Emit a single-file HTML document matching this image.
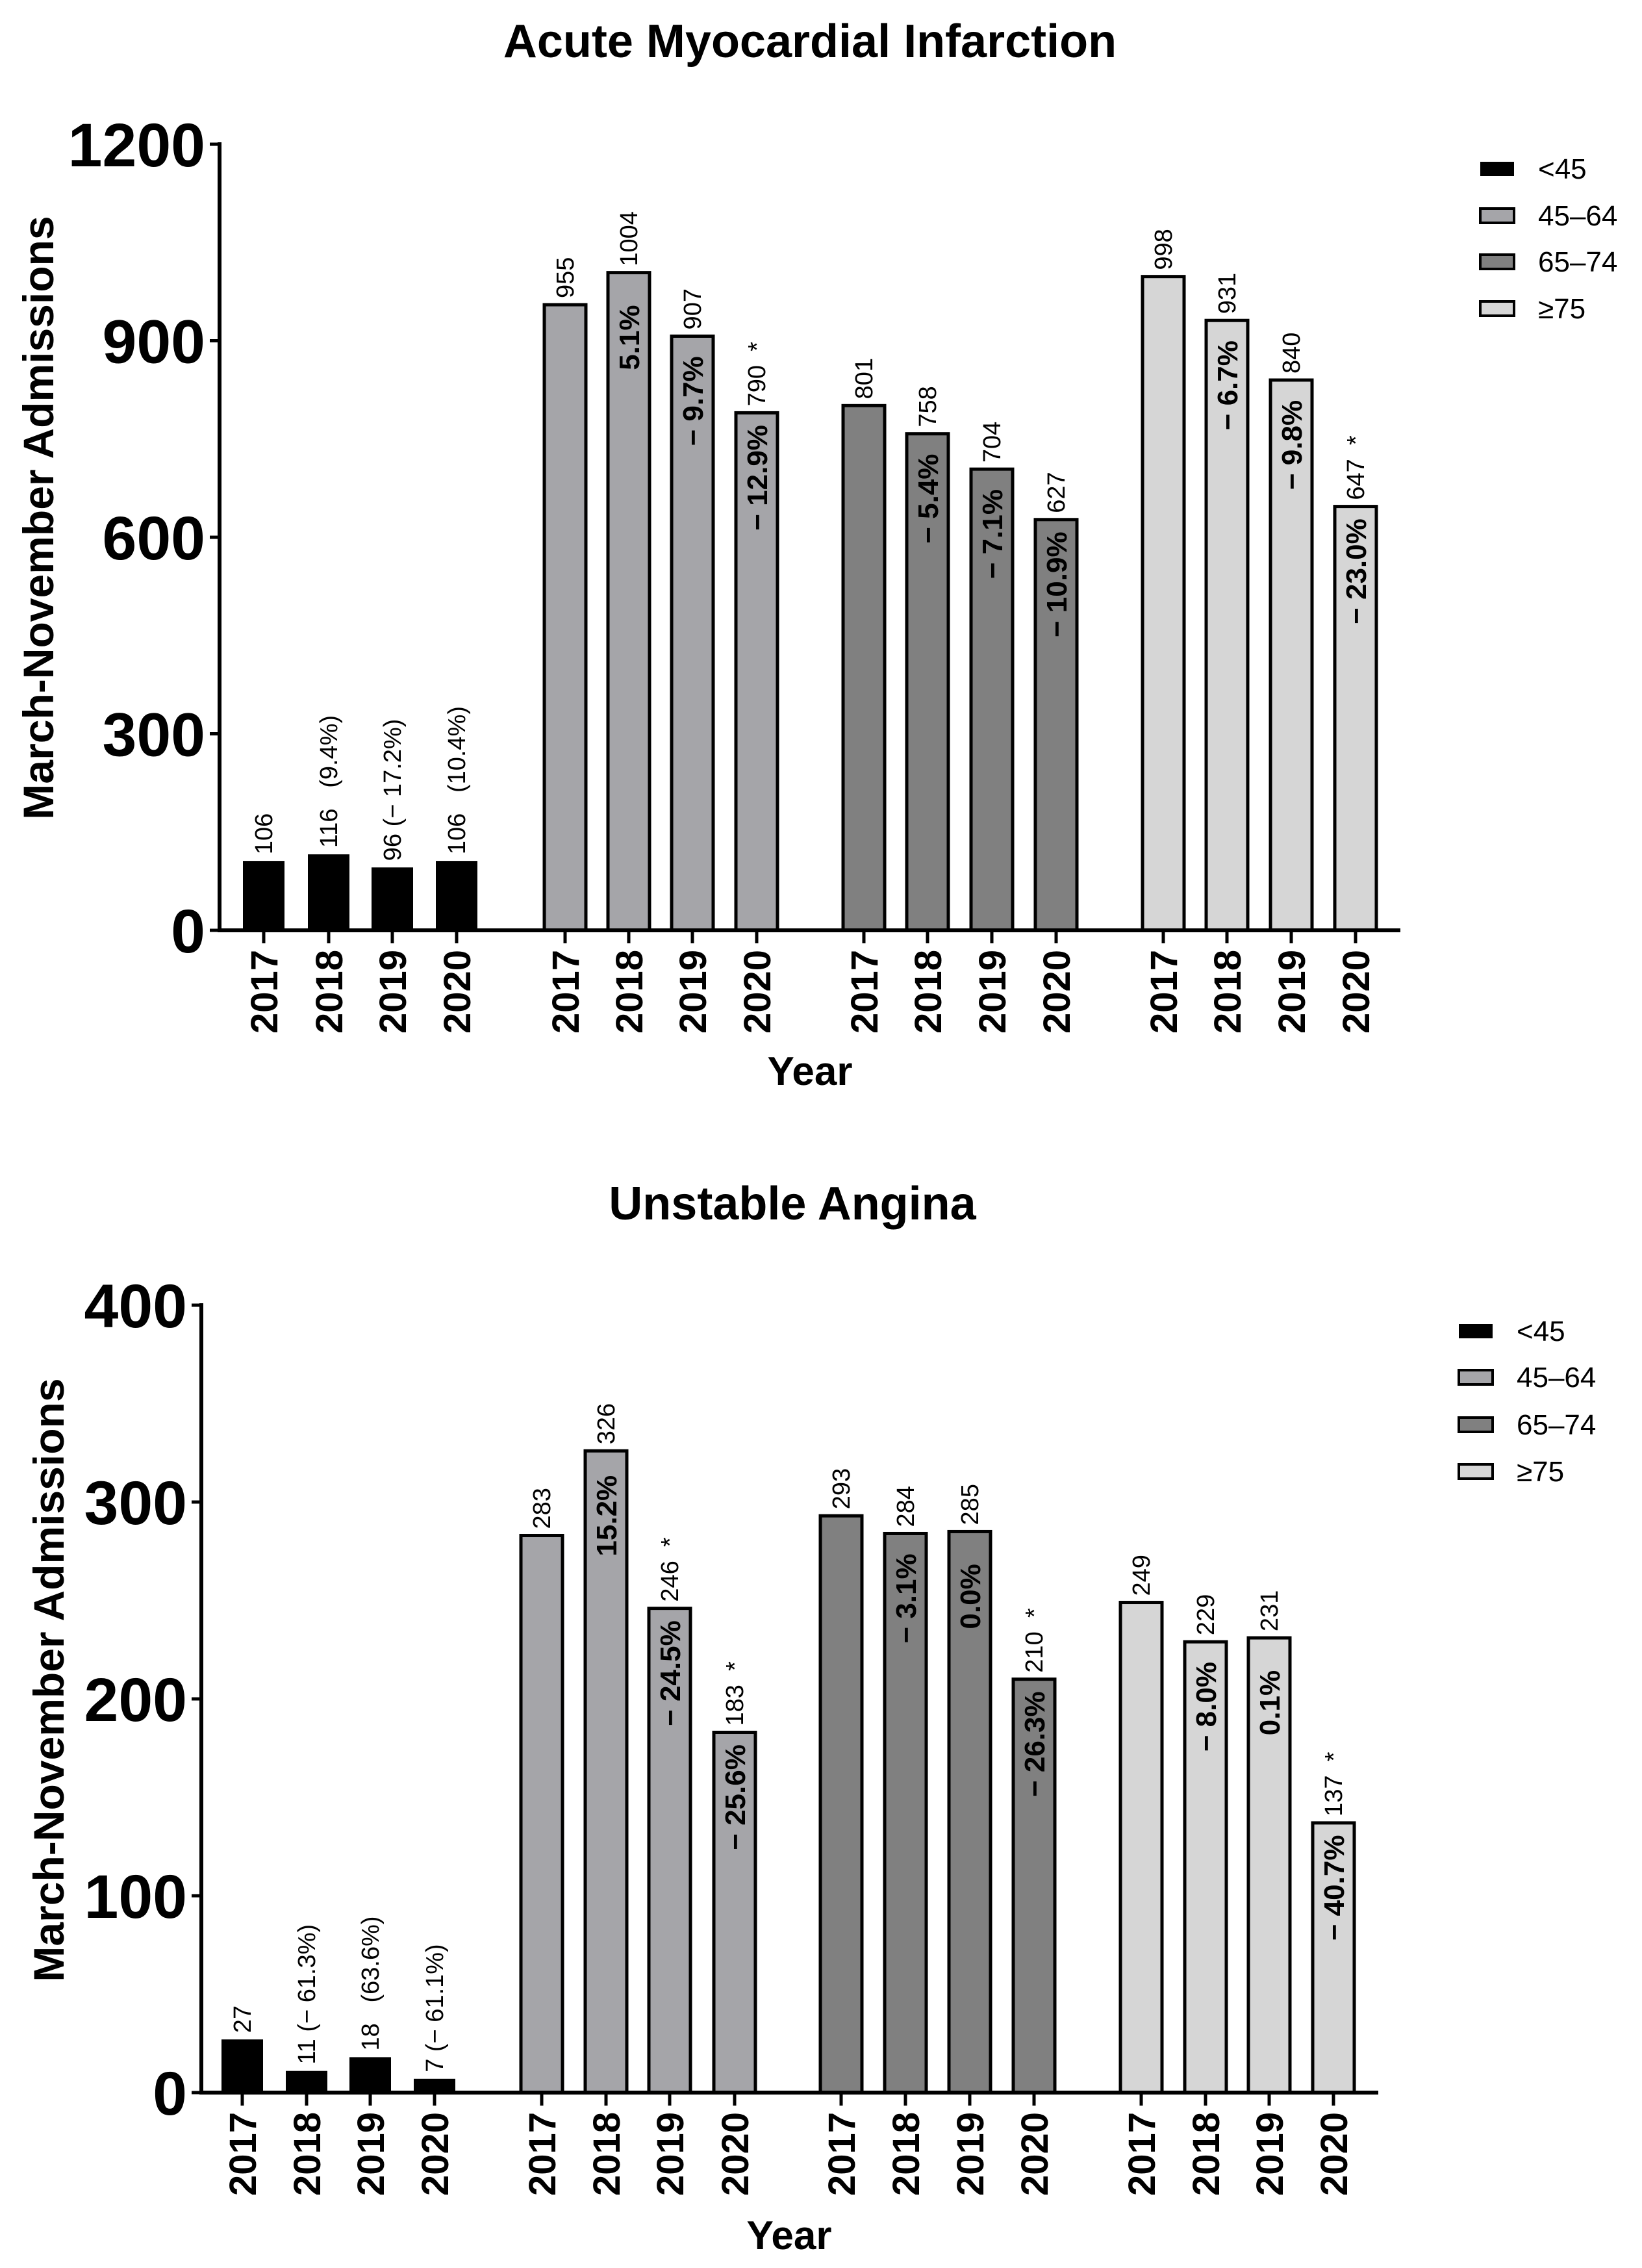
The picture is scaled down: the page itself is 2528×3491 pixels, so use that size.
<!DOCTYPE html>
<html><head><meta charset="utf-8"><style>
html,body{margin:0;padding:0;background:#fff}
svg{display:block}
text{font-family:"Liberation Sans",Arial,sans-serif;white-space:pre}
</style></head><body>
<svg id="chart" width="2528" height="3491" viewBox="0 0 2528 3491" xmlns="http://www.w3.org/2000/svg"></svg>
<script>
// ---- data ----
const years = ["2017","2018","2019","2020"];
const groups = ["<45","45\u201364","65\u201374","\u226575"];
const amiValues = [[106,116,96,106],[955,1004,907,790],[801,758,704,627],[998,931,840,647]];
const amiLabels = [["106","116   (9.4%)","96 (\u2212 17.2%)","106   (10.4%)"],["955","1004","907","790  *"],["801","758","704","627"],["998","931","840","647  *"]];
const amiPct = [["","","",""],["","5.1%","\u2212 9.7%","\u2212 12.9%"],["","\u2212 5.4%","\u2212 7.1%","\u2212 10.9%"],["","\u2212 6.7%","\u2212 9.8%","\u2212 23.0%"]];
const amiTicks = [0,300,600,900,1200];
const uaValues = [[27,11,18,7],[283,326,246,183],[293,284,285,210],[249,229,231,137]];
const uaLabels = [["27","11 (\u2212 61.3%)","18   (63.6%)","7 (\u2212 61.1%)"],["283","326","246  *","183  *"],["293","284","285","210  *"],["249","229","231","137  *"]];
const uaPct = [["","","",""],["","15.2%","\u2212 24.5%","\u2212 25.6%"],["","\u2212 3.1%","0.0%","\u2212 26.3%"],["","\u2212 8.0%","0.1%","\u2212 40.7%"]];
const uaTicks = [0,100,200,300,400];
const colors = ["#000000","#a5a5a9","#808080","#d6d6d6"];

const NS="http://www.w3.org/2000/svg";
const svg=document.getElementById('chart');
function el(tag,attrs,parent,txt){const e=document.createElementNS(NS,tag);for(const k in attrs)e.setAttribute(k,attrs[k]);if(txt!==undefined)e.textContent=txt;(parent||svg).appendChild(e);return e;}

function drawPanel(cfg){
  const g=el('g',{});
  
  
  const yMax=cfg.ticks[cfg.ticks.length-1];
  const yScale=v=>cfg.y0-(v/yMax)*(cfg.y0-cfg.yTop);
  const t=el('text',{x:cfg.titleX,y:cfg.titleY,'font-size':72,'font-weight':'bold','text-anchor':'middle'},g,cfg.title);
  
  
  cfg.values.forEach((series,gi)=>{
    series.forEach((v,yi)=>{
      const cx=cfg.centers[gi][yi];
      const top=yScale(v);
      const r=el('rect',{x:cx-32,y:top,width:64,height:cfg.y0-top,fill:colors[gi],stroke:'#000','stroke-width':gi===0?0:5},g);
      
      
      const lb=el('text',{x:0,y:0,'font-size':38,'transform':`translate(${cx+13},${top-10}) rotate(-90)`},g,cfg.labels[gi][yi]);
      
      
      if(cfg.pct[gi][yi]){
        const p=el('text',{x:0,y:0,'font-size':44,'font-weight':'bold','text-anchor':'middle','transform':`translate(${cx+16},${top+100}) rotate(-90)`},g,cfg.pct[gi][yi]);
        
        
      }
      const tk=el('line',{x1:cx,x2:cx,y1:cfg.y0,y2:cfg.y0+20,stroke:'#000','stroke-width':5},g);
      
      
      const yl=el('text',{x:0,y:0,'font-size':58,'font-weight':'bold','text-anchor':'end','transform':`translate(${cx+21},${cfg.y0+30}) rotate(-90)`},g,years[yi]);
      
      
    });
  });
  const ya=el('line',{x1:cfg.axisX,x2:cfg.axisX,y1:cfg.yTop-3,y2:cfg.y0+3,stroke:'#000','stroke-width':6},g);
  
  
  const xa=el('line',{x1:cfg.axisX-3,x2:cfg.axisEnd,y1:cfg.y0,y2:cfg.y0,stroke:'#000','stroke-width':6},g);
  
  
  cfg.ticks.forEach(v=>{
    const y=yScale(v);
    const tl=el('line',{x1:cfg.axisX-15,x2:cfg.axisX,y1:y,y2:y,stroke:'#000','stroke-width':5},g);
    
    
    const tt=el('text',{x:cfg.axisX-22,y:y+34,'font-size':95,'font-weight':'bold','text-anchor':'end'},g,String(v));
    
    
  });
  const yt=el('text',{x:0,y:0,'font-size':66,'font-weight':'bold','text-anchor':'middle','transform':`translate(${cfg.yTitleX},${cfg.yTitleY}) rotate(-90)`},g,'March-November Admissions');
  
  
  const xt=el('text',{x:cfg.xTitleX,y:cfg.xTitleY,'font-size':62,'font-weight':'bold','text-anchor':'middle'},g,'Year');
  
  
  groups.forEach((name,i)=>{
    const ly=cfg.legY[i];
    const sw=el('rect',{x:cfg.legX+2,y:ly-11,width:52,height:22,fill:colors[i],stroke:'#000','stroke-width':i===0?0:4},g);
    
    
    const lt=el('text',{x:cfg.legX+91,y:ly+15,'font-size':44},g,name);
    
    
  });
}

drawPanel({name:'ami-chart',title:'Acute Myocardial Infarction',titleX:1247,titleY:88,
  values:amiValues,labels:amiLabels,pct:amiPct,ticks:amiTicks,
  y0:1432,yTop:222,axisX:338,axisEnd:2156,
  centers:[[406,506,604,703],[870,968,1066,1165],[1330,1428,1527,1626],[1791,1889,1988,2087]],
  yTitleX:82,yTitleY:797,xTitleX:1247,xTitleY:1670,
  legX:2277,legY:[260,332,403,475]});

drawPanel({name:'unstable-angina-chart',title:'Unstable Angina',titleX:1220,titleY:1877,
  values:uaValues,labels:uaLabels,pct:uaPct,ticks:uaTicks,
  y0:3221,yTop:2009,axisX:310,axisEnd:2122,
  centers:[[373,472,570,669],[834,933,1031,1131],[1295,1394,1493,1592],[1757,1856,1954,2053]],
  yTitleX:98,yTitleY:2586,xTitleX:1215,xTitleY:3462,
  legX:2244,legY:[2049,2120,2193,2265]});
</script>
</body></html>
